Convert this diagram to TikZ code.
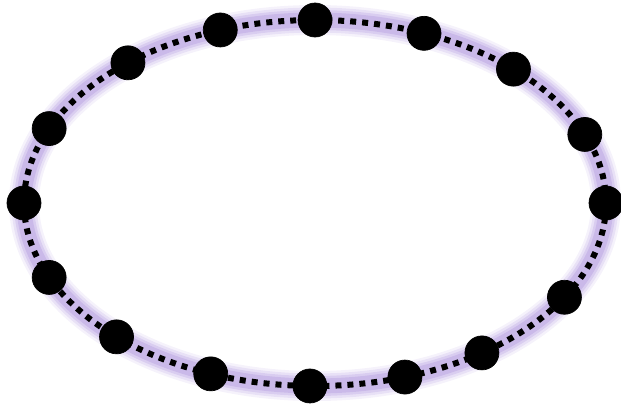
\documentclass[tikz,border=0pt]{standalone}
\usepackage{tikz}
\usetikzlibrary{positioning}
\usepackage{xcolor}
\definecolor{colglow}{HTML}{AE94DE}
\definecolor{colbead}{HTML}{000000}

\begin{document}
\begin{tikzpicture}[
  bead/.style={circle,fill=colbead,draw=colbead,inner sep=0pt,minimum size=0.68cm},
  ring/.style={colbead,line width=0.12cm,dash pattern=on 0.12cm off 0.12cm},
]
  \useasboundingbox (0,0) rectangle (12.42,8.1);
  % ---- halo ----
  \foreach \w/\o in {0.6/0.12,0.5/0.18,0.4/0.26,0.3/0.36}
    \draw[colglow,line width=\w cm,opacity=\o] (6.3,4.04) ellipse [x radius=5.82,y radius=3.66];
  % ---- anillo punteado ----
  \draw[ring] (6.3,4.04) ellipse [x radius=5.82,y radius=3.66];
  % ---- cuentas ----
  \foreach \a [count=\i] in {90,68,47,22,0,-31,-55,-72,-91,-111,-133,-156,180,156,130,109}
    \node[bead] (d\i) at ({6.3+5.82*cos(\a)},{4.04+3.66*sin(\a)}) {};
\end{tikzpicture}
\end{document}
